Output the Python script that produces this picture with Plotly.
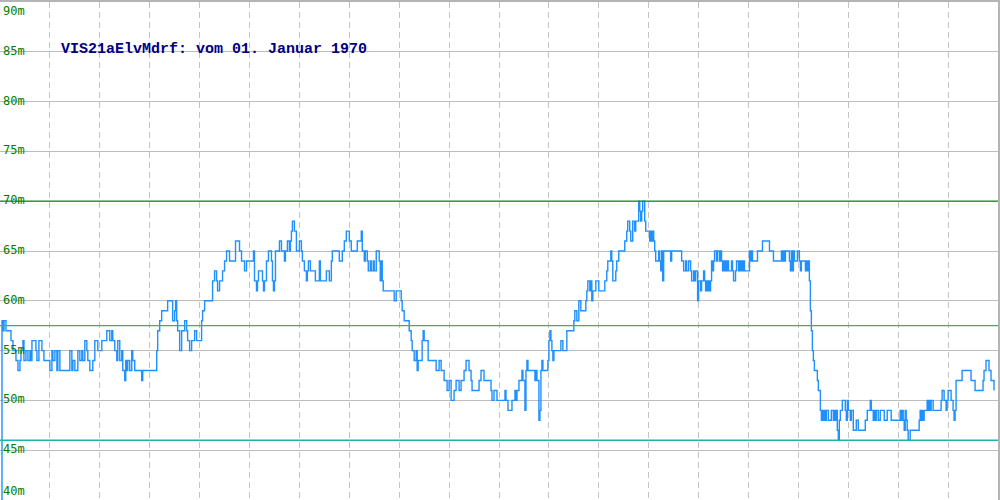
import plotly.graph_objects as go

# time index (pixel-like sample position) and water level in metres, in five stretches
t_a = [1,2,3,4,6,11,13,16,18,20,21,23,24,26,28,30,31,32,36,37,39,42,44,50,52,53,55,57,58,60,70,72,73,75,78,80,82,83]
level_a = [40,58,57,58,57,56,55,54,53,54,55,56,54,55,54,55,54,56,55,54,56,55,54,53,55,54,55,53,55,53,55,53,54,53,55,54,55,54]

t_b = [85,87,88,90,93,95,98,102,107,110,112,113,115,117,118,120,122,123,125,126,127,128,130,132,133,135,142,143,157,158,160,162,168,173,175,176,177,178,180,182,185,187,188,190,192,195,197,202,203,205,213,215,217,218,220,223,225,227,230,236,240,242,245,247]
level_b = [56,55,54,53,54,56,55,56,57,56,57,56,55,54,56,54,55,53,52,54,53,54,53,55,54,53,52,53,55,57,58,59,60,58,59,60,58,57,55,57,58,57,56,55,56,57,56,58,59,60,62,63,62,61,62,63,64,65,64,66,65,64,63,64]

t_c = [250,254,255,257,258,259,263,264,265,267,269,272,273,274,275,276,280,282,285,286,288,290,291,292,293,295,297,300,302,303,305,307,308,309,311,316,320,321,327,330,332,333,340,343,345,347,350,352,358,362,363,365,366,368,369,371,372,374,375,377,380,381,382,383,384,395,397,402,403,405,410,412,413,415,417,418,419,423,424,425,429,437,440,442,445,448,450,452,455,457,460,462,465,467,470,472,473,480,482,485,492,493,495,498]
level_c = [64,65,62,61,62,63,62,61,62,64,65,64,62,61,62,65,66,65,64,65,66,65,66,67,68,67,65,66,65,64,63,62,63,64,63,62,64,62,63,62,64,65,64,65,66,67,66,65,66,67,65,64,65,64,63,64,63,64,63,65,64,62,64,62,61,60,61,60,59,58,57,56,55,54,55,53,54,56,57,56,54,53,54,53,52,51,52,50,51,52,51,52,53,54,53,52,51,52,53,52,51,50,51,50]

t_d = [500,506,507,509,513,516,517,518,520,523,524,526,527,528,529,536,537,538,540,541,542,543,544,549,550,551,552,553,554,555,562,564,567,568,575,576,578,580,582,587,588,589,591,592,593,594,597,600,606,608,609,612,613,614,616,617,618,620,626,628,629,631,632,634,636,637,640,641,642,643,644,646,647,651,652,653,654,655,656,657,660,661,662,663,664,665,672,673,683,685,687,688,690,692,693,695,696,697,699,700,702,703,705,706,707,708,709,710,711,712,713,714,715,716,718,719,721,722,723,724,725,726,727,728,729,730,733,734,735,737,738,740,741,742,743,744,745,746]
level_d = [50,51,50,49,50,51,50,51,52,53,52,49,53,54,53,52,53,52,48,49,53,54,53,54,56,57,56,55,54,55,56,55,55,57,58,59,58,60,59,60,61,62,61,62,60,61,62,61,62,63,64,65,64,62,62,63,64,65,66,67,68,67,66,68,67,68,70,69,68,69,70,68,67,66,67,66,67,66,65,64,65,64,63,65,62,65,64,65,64,63,64,63,64,63,62,63,62,63,60,62,61,62,63,62,61,62,61,62,61,62,64,63,64,65,64,65,64,65,64,63,64,63,64,63,64,63,64,63,62,63,64,63,64,63,64,63,64,63]

t_e = [750,751,752,753,754,759,764,771,775,783,
       784,785,786,787,791,792,793,794,795,796,
       797,799,801,802,803,807,808,809,810,811,
       812,813,814,815,816,819,820,822,823,824,
       825,826,827,828,830,833,835,836,837,838,
       839,840,841,842,844,847,848,849,850,852,
       853,855,858,860,865,867,869,872,873,875,
       876,877,878,880,882,886,889,893,902,903,
       904,905,906,907,908,909,910,912,921,922,
       923,924,925,926,927,929,930,931,932,933,
       935,943,944,946,948,949,950,953,955,956,
       957,958,964,973,977,985,986,988,991,993,
       996]
level_e = [63,65,64,65,64,65,66,65,64,65,
           64,65,64,65,64,63,65,63,65,64,
           64,65,64,63,64,63,64,63,64,62,
           59,57,55,54,53,52,51,49,48,49,
           48,49,48,49,48,49,48,49,48,49,
           47,46,48,49,50,49,48,50,49,48,
           49,47,48,47,47,48,49,50,49,48,
           49,48,49,48,49,48,49,48,49,48,
           49,48,47,49,48,47,46,47,48,49,
           48,49,48,49,49,50,49,50,49,50,
           49,50,51,50,49,50,51,50,49,48,
           49,52,53,52,51,52,53,54,53,52,
           51]

t = t_a + t_b + t_c + t_d + t_e
level = level_a + level_b + level_c + level_d + level_e
assert len(t) == len(level), (len(t_a), len(level_a), len(t_b), len(level_b), len(t_c), len(level_c), len(t_d), len(level_d), len(t_e), len(level_e))

y_ticks = [40, 45, 50, 55, 60, 65, 70, 75, 80, 85, 90]
tick_text = ["40m", "45m", "50m", "55m", "60m", "65m", "70m", "75m", "80m", "85m", "90m"]
limit_levels = [70, 57.5, 46]
limit_colors = ["#1a8c1a", "#4aa86a", "#20b2aa"]
title_text = "VIS21aElvMdrf: vom 01. Januar 1970"

fig = go.Figure()
fig.add_trace(go.Scatter(x=t, y=level, mode="lines", line=dict(color="#1e90ff", width=1.4, shape="hv"),
                         hoverinfo="skip", showlegend=False))

for lv, col in zip(limit_levels, limit_colors):
    fig.add_shape(type="line", xref="paper", x0=0, x1=1, y0=lv, y1=lv,
                  line=dict(color=col, width=1.3), layer="above")

for v, s in zip(y_ticks, tick_text):
    if v == 90:
        ya, ys = "top", 0
    elif v == 40:
        ya, ys = "bottom", 0
    else:
        ya, ys = "middle", 1
    fig.add_annotation(x=0, xref="paper", y=v, yref="y", text=s, showarrow=False,
                       xanchor="left", yanchor=ya, yshift=ys, xshift=1,
                       font=dict(family="DejaVu Sans Mono", size=12, color="#008000"))

fig.add_annotation(x=59, xref="x", y=85.2, yref="y", text="<b>" + title_text + "</b>", showarrow=False,
                   xanchor="left", yanchor="middle",
                   font=dict(family="Liberation Mono", size=15, color="#000080"))

fig.update_xaxes(range=[0, 1000], dtick=50, tick0=0, showgrid=True, gridcolor="#c4c4c4",
                 griddash="6px,4px", gridwidth=1, showticklabels=False, zeroline=False,
                 showline=True, linecolor="#b4b4b4", linewidth=2, mirror=True, ticks="")
fig.update_yaxes(range=[40, 90], tickvals=y_ticks, showgrid=True, gridcolor="#bdbdbd", gridwidth=1,
                 showticklabels=False, zeroline=False, showline=True, linecolor="#b4b4b4",
                 linewidth=2, mirror=True, ticks="")
fig.update_layout(width=1000, height=500, margin=dict(l=0, r=0, t=0, b=0),
                  plot_bgcolor="white", paper_bgcolor="white")
fig.write_html("out.html")
